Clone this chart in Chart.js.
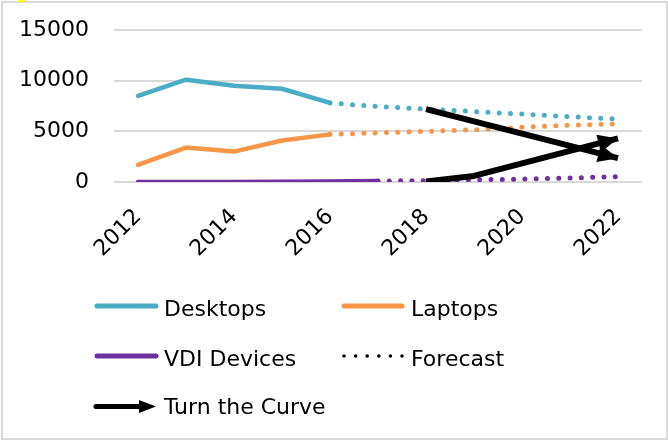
<!DOCTYPE html>
<html>
<head>
<meta charset="utf-8">
<script src="https://cdn.jsdelivr.net/npm/chart.js@4/dist/chart.umd.min.js"></script>
<style>
  html, body { margin: 0; padding: 0; background: #fff; }
  #wrap { position: relative; width: 668px; height: 440px; overflow: hidden; }
  #c { position: absolute; left: 0; top: 0; }
  #frame { position: absolute; left: 1px; top: 1px; width: 667px; height: 439px; box-sizing: border-box; border: 2px solid #d9d9d9; pointer-events: none; }
  #mark { position: absolute; left: 18px; top: 0; width: 7px; height: 2px; background: #ffff00; }
  #legend { position: absolute; left: 0; top: 0; }
</style>
</head>
<body>
<div id="wrap">
  <canvas id="c" width="668" height="440"></canvas>
  <div id="frame"></div>
  <div id="mark"></div>
  <svg id="legend" width="668" height="440" xmlns="http://www.w3.org/2000/svg" font-family="DejaVu Sans" font-size="22" fill="#000">
    <line x1="97" y1="306" x2="156" y2="306" stroke="#4BACC6" stroke-width="5" stroke-linecap="round"/>
    <text x="164" y="316">Desktops</text>
    <line x1="344" y1="306" x2="402" y2="306" stroke="#F79646" stroke-width="5" stroke-linecap="round"/>
    <text x="411" y="316">Laptops</text>
    <line x1="97" y1="356" x2="156" y2="356" stroke="#7030A0" stroke-width="5" stroke-linecap="round"/>
    <text x="164" y="366">VDI Devices</text>
    <g fill="#000">
      <circle cx="344" cy="356" r="1.8"/><circle cx="355.6" cy="356" r="1.8"/><circle cx="367.2" cy="356" r="1.8"/>
      <circle cx="378.8" cy="356" r="1.8"/><circle cx="390.4" cy="356" r="1.8"/><circle cx="402" cy="356" r="1.8"/>
    </g>
    <text x="411" y="366">Forecast</text>
    <line x1="96" y1="406.5" x2="141" y2="406.5" stroke="#000" stroke-width="5" stroke-linecap="round"/>
    <polygon points="139,400 156,406.5 139,413" fill="#000"/>
    <text x="164" y="414">Turn the Curve</text>
  </svg>
</div>
<script>
// ---- data ----
const years = ['2012','2013','2014','2015','2016','2017','2018','2019','2020','2021','2022'];
const shownYears = ['2012','2014','2016','2018','2020','2022'];
const yTicks = [0, 5000, 10000, 15000];

const desktops = [8500, 10100, 9500, 9200, 7800, null, null, null, null, null, null];
const laptops  = [1700, 3400, 3000, 4100, 4700, null, null, null, null, null, null];
const vdi      = [0, 0, 0, 20, 60, 100, null, null, null, null, null];

const desktopsForecast = [null, null, null, null, 7800, 7450, 7200, 6950, 6700, 6450, 6200];
const laptopsForecast  = [null, null, null, null, 4700, 4850, 5000, 5150, 5400, 5600, 5750];
const vdiForecast      = [null, null, null, null, null, 100, 130, 200, 300, 400, 520];

const turnDown = [null, null, null, null, null, null, 7200, null, null, null, 2350];
const turnUp   = [null, null, null, null, null, null, 50, 600, null, null, 4300];

const BLUE = '#4BACC6', ORANGE = '#F79646', PURPLE = '#7030A0';
const FONT = { family: 'DejaVu Sans', size: 22 };

const arrowPlugin = {
  id: 'arrowHeads',
  afterDatasetsDraw(chart) {
    const ctx = chart.ctx;
    chart.data.datasets.forEach((ds, i) => {
      if (!ds.arrow) return;
      const meta = chart.getDatasetMeta(i);
      const pts = meta.data.filter((p, k) => ds.data[k] !== null);
      if (pts.length < 2) return;
      const a = pts[pts.length - 2], b = pts[pts.length - 1];
      const ang = Math.atan2(b.y - a.y, b.x - a.x);
      const len = 20, half = 9;
      ctx.save();
      ctx.translate(b.x, b.y);
      ctx.rotate(ang);
      ctx.beginPath();
      ctx.moveTo(0, 0);
      ctx.lineTo(-len, -half);
      ctx.lineTo(-len, half);
      ctx.closePath();
      ctx.fillStyle = '#000';
      ctx.fill();
      ctx.restore();
    });
  }
};

const dotted = (data, color) => ({
  data, borderColor: color, borderWidth: 5, borderDash: [0, 11.3],
  borderCapStyle: 'round', pointRadius: 0, fill: false, tension: 0, spanGaps: false
});
const solid = (data, color) => ({
  data, borderColor: color, borderWidth: 4.5, borderCapStyle: 'round',
  borderJoinStyle: 'round', pointRadius: 0, fill: false, tension: 0
});

new Chart(document.getElementById('c'), {
  type: 'line',
  data: {
    labels: years,
    datasets: [
      Object.assign({ label: 'Turn the Curve', arrow: true, spanGaps: true, borderColor: '#000', borderWidth: 6, borderCapStyle: 'butt', pointRadius: 0, tension: 0 }, { data: turnDown }),
      Object.assign({ label: 'Turn the Curve', arrow: true, spanGaps: true, borderColor: '#000', borderWidth: 6, borderCapStyle: 'butt', borderJoinStyle: 'round', pointRadius: 0, tension: 0 }, { data: turnUp }),
      Object.assign({ label: 'Desktops forecast' }, dotted(desktopsForecast, BLUE)),
      Object.assign({ label: 'Laptops forecast' }, dotted(laptopsForecast, ORANGE)),
      Object.assign({ label: 'VDI forecast' }, dotted(vdiForecast, PURPLE)),
      Object.assign({ label: 'Desktops' }, solid(desktops, BLUE)),
      Object.assign({ label: 'Laptops' }, solid(laptops, ORANGE)),
      Object.assign({ label: 'VDI Devices' }, solid(vdi, PURPLE))
    ]
  },
  options: {
    responsive: false,
    animation: false,
    devicePixelRatio: 1,
    layout: { padding: { left: 0, top: 30, right: 26, bottom: 0 } },
    plugins: { legend: { display: false }, tooltip: { enabled: false } },
    scales: {
      x: {
        offset: true,
        grid: { display: false, drawTicks: false },
        border: { display: false },
        ticks: {
          autoSkip: false, minRotation: 45, maxRotation: 45, padding: 22,
          color: '#000', font: FONT,
          callback: (v, idx) => shownYears.includes(years[idx]) ? years[idx] : ''
        },
        afterFit: (s) => { s.height = 258; s.paddingTop = 0; s.paddingBottom = 0; s.paddingLeft = 0; s.paddingRight = 0; }
      },
      y: {
        min: yTicks[0], max: yTicks[yTicks.length - 1],
        grid: { color: '#d9d9d9', lineWidth: 2, drawTicks: false },
        border: { display: false },
        ticks: { stepSize: 5000, padding: 25, color: '#000', font: FONT,
          callback: (v) => yTicks.includes(v) ? String(v) : '' },
        afterFit: (s) => { s.width = 114; s.paddingTop = 0; s.paddingBottom = 0; s.paddingLeft = 0; s.paddingRight = 0; }
      }
    }
  },
  plugins: [arrowPlugin]
});
</script>
</body>
</html>
